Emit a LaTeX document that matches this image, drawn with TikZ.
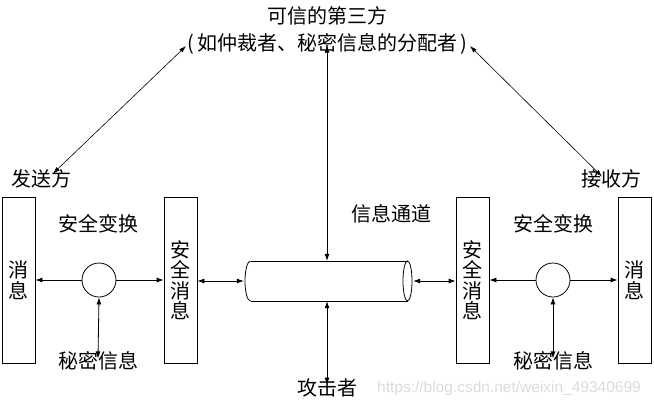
\documentclass[tikz,border=0pt]{standalone}
\usepackage{fontspec}
\setmainfont{Noto Sans CJK SC}
\newfontfamily\wmfont{Liberation Sans}
\usetikzlibrary{arrows.meta}
\tikzset{
  lbl/.style={inner sep=0pt, font=\fontsize{20}{21}\selectfont},
  vbox/.style={draw, line width=0.8pt, minimum width=33pt, minimum height=166pt, inner sep=0pt,
               align=center, font=\fontsize{20}{20.5}\selectfont},
  xform/.style={draw, line width=0.8pt, circle, minimum size=34pt, inner sep=0pt},
  conn/.style={line width=0.8pt, -{Latex[length=7pt,width=5pt]}},
  biconn/.style={line width=0.8pt, {Latex[length=7pt,width=5pt]}-{Latex[length=7pt,width=5pt]}},
  diag/.style={line width=0.6pt, {Latex[length=7pt,width=4.5pt]}-{Latex[length=7pt,width=4.5pt]}},
}
\begin{document}
\begin{tikzpicture}[x=1pt,y=-1pt]
\useasboundingbox (0,0) rectangle (654,410);

% trusted third party
\node[lbl] (third1) at (327,16) {可信的第三方};
\node[lbl] (third2) at (327,44) {(\kern3pt 如仲裁者、秘密信息的分配者\kern3pt)};

% sender / receiver labels
\node[lbl] (send) at (42,179) {发送方};
\node[lbl] (recv) at (611,179) {接收方};

% boxes
\node[vbox] (msgL) at (18.5,280) {消\\息};
\node[vbox] (secL) at (180.5,280) {安\\全\\消\\息};
\node[vbox] (secR) at (472.5,280) {安\\全\\消\\息};
\node[vbox] (msgR) at (634.5,280) {消\\息};

% transforms
\node[xform] (cL) at (99,280) {};
\node[xform] (cR) at (553,280) {};
\node[lbl] (tL) at (98,224) {安全变换};
\node[lbl] (tR) at (553,224) {安全变换};
\node[lbl] (kL) at (98,361) {秘密信息};
\node[lbl] (kR) at (553,361) {秘密信息};

% channel (cylinder)
\node[inner sep=0pt, minimum width=167pt, minimum height=40pt] (chan) at (328.5,281) {};
\draw[line width=0.8pt] (250.5,261) -- (407.5,261);
\draw[line width=0.8pt] (250.5,301) -- (407.5,301);
\draw[line width=0.8pt] (250.5,301) arc[start angle=90, end angle=270, x radius=5.5, y radius=20];
\draw[line width=0.8pt] (407.5,281) ellipse[x radius=4.5, y radius=20];
\node[lbl] (chanlbl) at (391,214) {信息通道};

% attacker
\node[lbl] (att) at (327,388) {攻击者};

% watermark
\node[inner sep=0pt, font=\wmfont\fontsize{15.5}{16}\selectfont, text=black!14] (wm) at (509,388) {https://blog.csdn.net/weixin\_49340699};

% connectors
\draw[conn] (cL.west) -- (msgL.east |- cL.west);
\draw[conn] (cL.east) -- (secL.west |- cL.east);
\draw[biconn] (cL.south) -- ([yshift=-7pt]kL.north);
\draw[biconn] (secL.east |- chan.west) -- ([xshift=-1pt]chan.west);
\draw[biconn] ([xshift=1pt]chan.east) -- (secR.west |- chan.east);
\draw[conn] (cR.west) -- (secR.east |- cR.west);
\draw[conn] (cR.east) -- (msgR.west |- cR.east);
\draw[biconn] (cR.south) -- ([yshift=-7pt]kR.north);

\draw[biconn] ([yshift=9pt]third2.south) -- (chan.north -| third2.south);
\draw[biconn] (chan.south -| att.north) -- ([yshift=-6pt]att.north);

\draw[diag] ([xshift=-1pt,yshift=-2pt]third2.west) -- ([xshift=11pt,yshift=-4pt]send.north);
\draw[diag] ([xshift=3pt,yshift=-2pt]third2.east) -- ([xshift=-9pt,yshift=-7pt]recv.north);
\end{tikzpicture}
\end{document}
